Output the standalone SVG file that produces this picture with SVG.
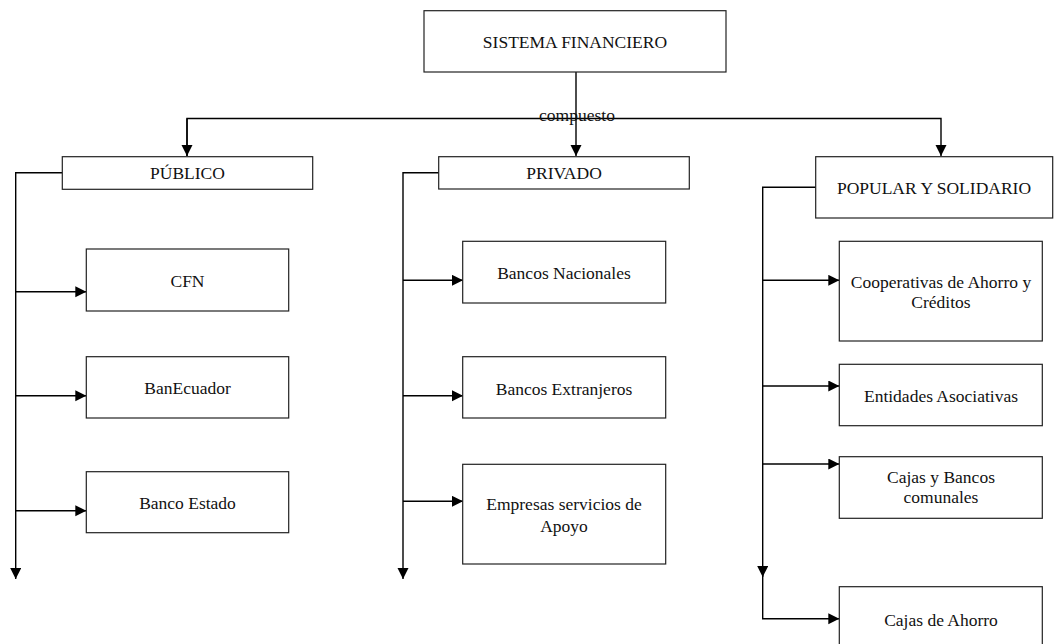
<svg xmlns="http://www.w3.org/2000/svg" width="1056" height="644" viewBox="0 0 1056 644">
<defs>
<style>
.box{fill:#fff;stroke:#222;stroke-width:1.2}
.t{font-family:"Liberation Serif","Times New Roman",serif;font-size:17.5px;fill:#111;text-anchor:middle}
.c{fill:none;stroke:#000;stroke-width:1.4}
</style>
<marker id="ah" markerUnits="userSpaceOnUse" markerWidth="12" markerHeight="12" refX="11" refY="5.5" orient="auto">
<path d="M0,0 L11,5.5 L0,11 z" fill="#000"/>
</marker>
</defs>
<rect width="1056" height="644" fill="#fff"/>
<g id="connectors">
<line class="c" x1="576" y1="72" x2="576" y2="156" marker-end="url(#ah)"/>
<polyline class="c" points="187,156 187,118.5 941,118.5 941,156" marker-end="url(#ah)"/>
<path class="c" d="M187,118.5 L187,156" marker-end="url(#ah)"/>
<polyline class="c" points="62,172.7 15.7,172.7 15.7,579" marker-end="url(#ah)"/>
<line class="c" x1="15.7" y1="291.7" x2="86.3" y2="291.7" marker-end="url(#ah)"/>
<line class="c" x1="15.7" y1="395.7" x2="86.3" y2="395.7" marker-end="url(#ah)"/>
<line class="c" x1="15.7" y1="510.7" x2="86.3" y2="510.7" marker-end="url(#ah)"/>
<polyline class="c" points="439,172.7 403,172.7 403,579" marker-end="url(#ah)"/>
<line class="c" x1="403" y1="280.3" x2="463" y2="280.3" marker-end="url(#ah)"/>
<line class="c" x1="403" y1="395.7" x2="463" y2="395.7" marker-end="url(#ah)"/>
<line class="c" x1="403" y1="501.3" x2="463" y2="501.3" marker-end="url(#ah)"/>
<polyline class="c" points="816,187.3 762.7,187.3 762.7,577" marker-end="url(#ah)"/>
<polyline class="c" points="762.7,570 762.7,618.7 839.3,618.7" marker-end="url(#ah)"/>
<line class="c" x1="762.7" y1="280.3" x2="839.3" y2="280.3" marker-end="url(#ah)"/>
<line class="c" x1="762.7" y1="386" x2="839.3" y2="386" marker-end="url(#ah)"/>
<line class="c" x1="762.7" y1="464" x2="839.3" y2="464" marker-end="url(#ah)"/>
<text class="t" x="577" y="121">compuesto</text>
</g>
<g id="sistema"><rect class="box" x="424" y="10.7" width="302" height="61.3"/><text class="t" x="575" y="48">SISTEMA FINANCIERO</text></g>
<g id="publico"><rect class="box" x="62.3" y="156.7" width="250.4" height="32.6"/><text class="t" x="187.5" y="179.3">PÚBLICO</text></g>
<g id="cfn"><rect class="box" x="86.3" y="249" width="202.4" height="62"/><text class="t" x="187.5" y="286.7">CFN</text></g>
<g id="banecuador"><rect class="box" x="86.3" y="356.7" width="202.4" height="61.3"/><text class="t" x="187.5" y="394">BanEcuador</text></g>
<g id="bancoestado"><rect class="box" x="86.3" y="471.7" width="202.4" height="61"/><text class="t" x="187.5" y="509">Banco Estado</text></g>
<g id="privado"><rect class="box" x="438.7" y="156.7" width="250.6" height="32.3"/><text class="t" x="564" y="179.3">PRIVADO</text></g>
<g id="nacionales"><rect class="box" x="462.7" y="241.3" width="203" height="61.7"/><text class="t" x="564" y="278.7">Bancos Nacionales</text></g>
<g id="extranjeros"><rect class="box" x="462.7" y="356.7" width="203" height="61.3"/><text class="t" x="564" y="394.5">Bancos Extranjeros</text></g>
<g id="empresas"><rect class="box" x="462.7" y="464.3" width="203" height="99.7"/><text class="t" x="564" y="510">Empresas servicios de</text><text class="t" x="564" y="531.7">Apoyo</text></g>
<g id="popular"><rect class="box" x="815.7" y="156.7" width="237" height="61.3"/><text class="t" x="934" y="193.5">POPULAR Y SOLIDARIO</text></g>
<g id="cooperativas"><rect class="box" x="839.3" y="241.3" width="203" height="99.7"/><text class="t" x="941" y="288.3">Cooperativas de Ahorro y</text><text class="t" x="941" y="308.3">Créditos</text></g>
<g id="entidades"><rect class="box" x="839.3" y="364.3" width="203" height="61.4"/><text class="t" x="941" y="401.7">Entidades Asociativas</text></g>
<g id="cajasbancos"><rect class="box" x="839.3" y="456.7" width="203" height="61.6"/><text class="t" x="941" y="483.3">Cajas y Bancos</text><text class="t" x="941" y="503.3">comunales</text></g>
<g id="cajasahorro"><rect class="box" x="839.3" y="586.7" width="203" height="70"/><text class="t" x="941" y="625.5">Cajas de Ahorro</text></g>
</svg>
